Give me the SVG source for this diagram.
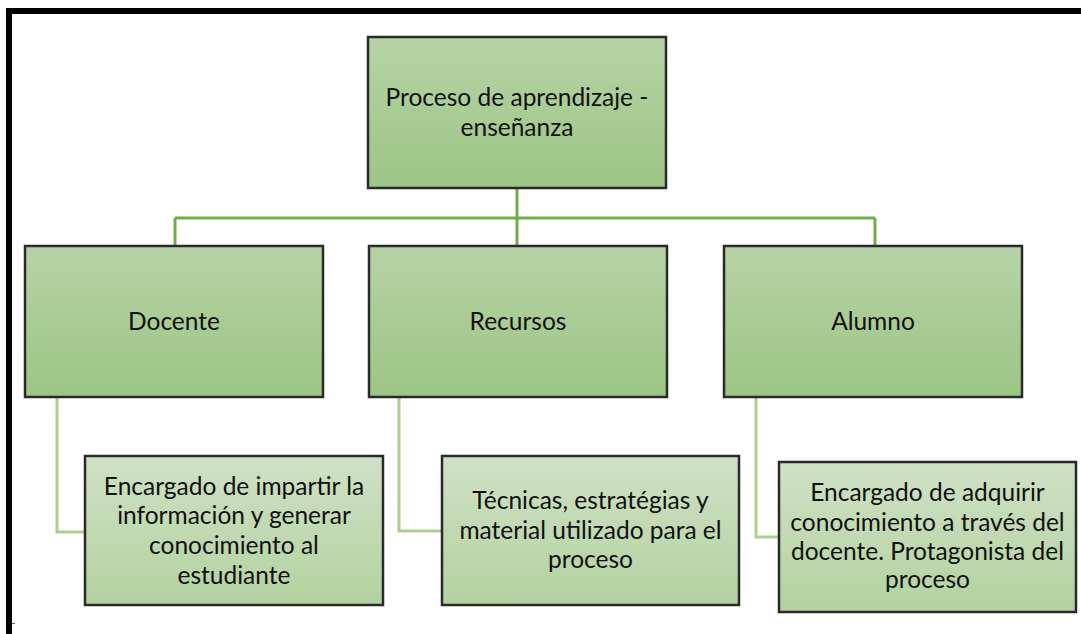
<svg xmlns="http://www.w3.org/2000/svg" width="1081" height="634" viewBox="0 0 1081 634">
<defs>
<linearGradient id="g2" x1="0" y1="0" x2="0" y2="1">
<stop offset="0" stop-color="#b6d3a6"/>
<stop offset="1" stop-color="#9cc584"/>
</linearGradient>
<linearGradient id="g3" x1="0" y1="0" x2="0" y2="1">
<stop offset="0" stop-color="#cfe1c5"/>
<stop offset="1" stop-color="#b3d2a0"/>
</linearGradient>
<style>
.b2{fill:url(#g2);stroke:#2a2a2a;stroke-width:2.5}
.b3{fill:url(#g3);stroke:#2a2a2a;stroke-width:2.5}
.t{font-family:Lato,"Liberation Sans",sans-serif;font-size:24.5px;fill:#111;text-anchor:middle}
.c1{fill:none;stroke:#70ad47;stroke-width:3}
.c2{fill:none;stroke:#a9d18e;stroke-width:3}
</style>
</defs>
<rect width="1081" height="634" fill="#fff"/>
<g id="frame">
<rect x="6" y="8" width="1075" height="6" fill="#000"/>
<rect x="6" y="8" width="6" height="626" fill="#000"/>
<rect x="12" y="623" width="3" height="1" fill="#666"/>
</g>
<g id="connectors">
<path class="c1" d="M517 188V248M175 218H875M175 218V248M875 218V248"/>
<path class="c2" d="M57 397V532H86"/>
<path class="c2" d="M399 397V531H443"/>
<path class="c2" d="M756 397V537H780"/>
</g>
<g id="n0">
<rect class="b2" x="368" y="37" width="298" height="151"/>
<text class="t" x="517" y="106">Proceso de aprendizaje -</text>
<text class="t" x="517" y="136">enseñanza</text>
</g>
<g id="n1">
<rect class="b2" x="25" y="246" width="298" height="151"/>
<text class="t" x="174" y="330">Docente</text>
</g>
<g id="n2">
<rect class="b2" x="369" y="246" width="298" height="151"/>
<text class="t" x="518" y="330">Recursos</text>
</g>
<g id="n3">
<rect class="b2" x="724" y="246" width="298" height="151"/>
<text class="t" x="873" y="330">Alumno</text>
</g>
<g id="n4">
<rect class="b3" x="85" y="456" width="298" height="149"/>
<text class="t" x="234" y="495">Encargado de impartir la</text>
<text class="t" x="234" y="524">información y generar</text>
<text class="t" x="234" y="554">conocimiento al</text>
<text class="t" x="234" y="584">estudiante</text>
</g>
<g id="n5">
<rect class="b3" x="442" y="456" width="297" height="149"/>
<text class="t" x="590.5" y="509">Técnicas, estratégias y</text>
<text class="t" x="590.5" y="539">material utilizado para el</text>
<text class="t" x="590.5" y="568">proceso</text>
</g>
<g id="n6">
<rect class="b3" x="779" y="462" width="297" height="150"/>
<text class="t" x="927.5" y="501">Encargado de adquirir</text>
<text class="t" x="927.5" y="531">conocimiento a través del</text>
<text class="t" x="927.5" y="560">docente. Protagonista del</text>
<text class="t" x="927.5" y="588">proceso</text>
</g>
</svg>
